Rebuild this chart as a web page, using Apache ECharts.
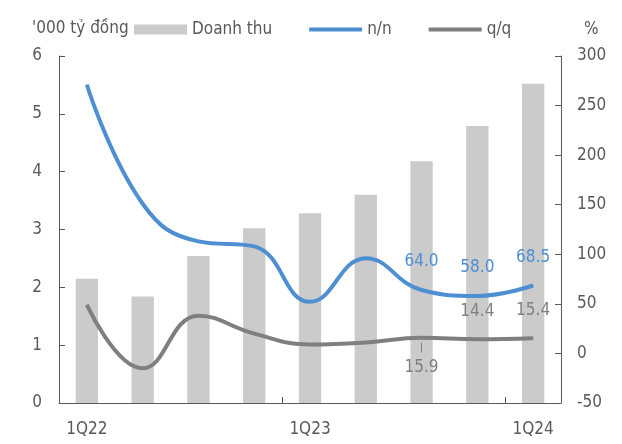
<!DOCTYPE html>
<html>
<head>
<meta charset="utf-8">
<script src="https://cdn.jsdelivr.net/npm/echarts@6/dist/echarts.min.js"></script>
<style>
html,body{margin:0;padding:0;background:#fff;}
#c{width:622px;height:444px;}
</style>
</head>
<body>
<div id="c"></div>
<script>
var categories = ['1Q22','2Q22','3Q22','4Q22','1Q23','2Q23','3Q23','4Q23','1Q24'];
var revenue = [2.15, 1.84, 2.54, 3.02, 3.28, 3.60, 4.18, 4.79, 5.52];
var yoy = [271, 151, 113, 108, 52, 96, 64.0, 58.0, 68.5];
var qoq = [49, -15, 38, 20, 9, 11, 15.9, 14.4, 15.4];
var leftTicks = {min: 0, max: 6, interval: 1};
var rightTicks = {min: -50, max: 300, interval: 50};
var labeledFrom = 6;

var FONT = "'DejaVu Sans Condensed', 'DejaVu Sans', sans-serif";
var TXT = '#595959';
var BLUE = '#4e8fd2';
var GRAY = '#7f7f7f';
var BAR = '#cbcbcb';
var AX = '#5a5a5a';

function fmt(p){ return p.dataIndex >= labeledFrom ? Number(p.value).toFixed(1) : ''; }

var qoqData = qoq.map(function(v, i){
  if (i === labeledFrom) {
    return {value: v, label: {position: 'bottom', distance: 21}};
  }
  return v;
});

var chart = echarts.init(document.getElementById('c'), null, {renderer: 'canvas'});
chart.setOption({
  animation: false,
  textStyle: {fontFamily: FONT},
  title: [
    {text: "'000 tỷ đồng", left: 32, top: 20, padding: 0, textStyle: {fontFamily: FONT, fontSize: 17, fontWeight: 'normal', color: TXT}},
    {text: '%', left: 584, top: 21, padding: 0, textStyle: {fontFamily: FONT, fontSize: 17, fontWeight: 'normal', color: TXT}}
  ],
  legend: {
    left: 134, top: 21, padding: 0,
    itemWidth: 53, itemHeight: 10, itemGap: 35,
    textStyle: {fontFamily: FONT, fontSize: 17, color: TXT},
    data: [
      {name: 'Doanh thu', icon: 'rect'},
      {name: 'n/n', itemStyle: {opacity: 0}, lineStyle: {width: 4}},
      {name: 'q/q', itemStyle: {opacity: 0}, lineStyle: {width: 4}}
    ]
  },
  grid: {left: 59, right: 61, top: 56, bottom: 41, containLabel: false},
  xAxis: {
    type: 'category', data: categories, boundaryGap: true,
    axisLine: {lineStyle: {color: AX, width: 1}},
    axisTick: {show: true, inside: true, length: 6, interval: 3, lineStyle: {color: AX}},
    axisLabel: {interval: 3, color: TXT, fontSize: 17, fontFamily: FONT, margin: 18},
    splitLine: {show: false}
  },
  yAxis: [
    {
      type: 'value', min: leftTicks.min, max: leftTicks.max, interval: leftTicks.interval,
      axisLine: {show: true, lineStyle: {color: AX, width: 1}},
      axisTick: {show: true, inside: true, length: 6, lineStyle: {color: AX}},
      axisLabel: {color: TXT, fontSize: 17, fontFamily: FONT, margin: 17},
      splitLine: {show: false}
    },
    {
      type: 'value', min: rightTicks.min, max: rightTicks.max, interval: rightTicks.interval,
      axisLine: {show: true, lineStyle: {color: AX, width: 1}},
      axisTick: {show: true, inside: true, length: 6, lineStyle: {color: AX}},
      axisLabel: {color: TXT, fontSize: 17, fontFamily: FONT, margin: 16},
      splitLine: {show: false}
    }
  ],
  series: [
    {
      name: 'Doanh thu', type: 'bar', data: revenue, yAxisIndex: 0,
      barWidth: '40%', itemStyle: {color: BAR}
    },
    {
      name: 'n/n', type: 'line', data: yoy, yAxisIndex: 1, smooth: 0.45,
      symbol: 'circle', symbolSize: 1, showSymbol: true,
      itemStyle: {color: BLUE}, lineStyle: {color: BLUE, width: 4},
      label: {show: true, position: 'top', distance: 19, formatter: fmt, color: BLUE, fontSize: 17, fontFamily: FONT},
      z: 3
    },
    {
      name: 'q/q', type: 'line', data: qoqData, yAxisIndex: 1, smooth: 0.45,
      symbol: 'circle', symbolSize: 1, showSymbol: true,
      itemStyle: {color: GRAY}, lineStyle: {color: GRAY, width: 4},
      label: {show: true, position: 'top', distance: 19, formatter: fmt, color: GRAY, fontSize: 17, fontFamily: FONT},
      markLine: {
        silent: true, symbol: 'none', label: {show: false},
        lineStyle: {color: GRAY, width: 1, type: 'solid'},
        data: [[
          {xAxis: labeledFrom, yAxis: qoq[labeledFrom] - 5},
          {xAxis: labeledFrom, yAxis: qoq[labeledFrom] - 15}
        ]]
      },
      z: 3
    }
  ]
});
</script>
</body>
</html>
